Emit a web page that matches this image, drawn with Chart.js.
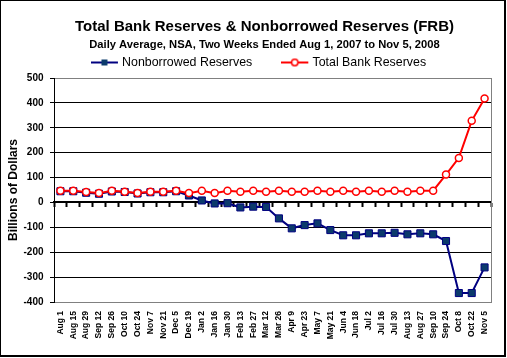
<!DOCTYPE html>
<html>
<head>
<meta charset="utf-8">
<script src="https://cdn.jsdelivr.net/npm/chart.js@4/dist/chart.umd.min.js"></script>
<style>
  html, body { margin: 0; padding: 0; background: #fff; }
  #wrap { position: relative; width: 507px; height: 358px; }
  #frame { position: absolute; left: 0; top: 0; width: 503px; height: 354px;
           border-style: solid; border-color: #000; border-width: 1px 2px 2px 1px; pointer-events: none; }
</style>
</head>
<body>
<div id="wrap">
  <canvas id="c" width="507" height="358"></canvas>
  <div id="frame"></div>
</div>
<script>
const categories = ['Aug 1','Aug 15','Aug 29','Sep 12','Sep 26','Oct 10','Oct 24','Nov 7','Nov 21','Dec 5',
  'Dec 19','Jan 2','Jan 16','Jan 30','Feb 13','Feb 27','Mar 12','Mar 26','Apr 9','Apr 23',
  'May 7','May 21','Jun 4','Jun 18','Jul 2','Jul 16','Jul 30','Aug 13','Aug 27','Sep 10',
  'Sep 24','Oct 8','Oct 22','Nov 5'];
const nonborrowed = [45, 45, 39, 35, 44, 42, 36, 41, 41, 45,
  28, 8, -4, -3, -20, -17, -18, -64, -104, -91,
  -84, -111, -132, -132, -124, -124, -122, -128, -124, -128,
  -155, -364, -364, -261];
const totalReserves = [47, 47, 41.5, 37.5, 47, 43, 37.5, 43, 43, 47,
  37.5, 47, 37.5, 47, 43, 47, 43, 47, 43, 43,
  47, 43, 47, 43, 47, 43, 47, 43, 47, 47,
  112, 179, 328, 418];
const yTicks = [-400, -300, -200, -100, 0, 100, 200, 300, 400, 500];
const seriesNames = ['Nonborrowed Reserves', 'Total Bank Reserves'];
const titleText = 'Total Bank Reserves & Nonborrowed Reserves (FRB)';
const subtitleText = 'Daily Average, NSA, Two Weeks Ended Aug 1, 2007 to Nov 5, 2008';
const yTitle = 'Billions of Dollars';

const FONT = "'Liberation Sans', Arial, sans-serif";
const NAVY = '#000080';
const NAVY_FILL = '#0b3a6b';
const RED = '#ff0000';
const GREY = '#808080';

// legend sample: line with marker, drawn in the left 27px of a 37px wide image
function legendSample(kind) {
  const cv = document.createElement('canvas');
  cv.width = 37; cv.height = 10;
  const g = cv.getContext('2d');
  g.lineWidth = 2;
  g.strokeStyle = kind === 0 ? NAVY : RED;
  g.beginPath(); g.moveTo(0, 5); g.lineTo(27, 5); g.stroke();
  if (kind === 0) {
    g.fillStyle = NAVY_FILL; g.fillRect(10.5, 2, 6, 6);
  } else {
    g.fillStyle = '#fff'; g.lineWidth = 1.5;
    g.beginPath(); g.arc(13.5, 5, 3.2, 0, Math.PI * 2); g.fill(); g.stroke();
  }
  return cv;
}
const samples = [legendSample(0), legendSample(1)];

new Chart(document.getElementById('c'), {
  type: 'line',
  data: {
    labels: categories,
    datasets: [
      {
        label: seriesNames[0], data: nonborrowed, order: 1,
        borderColor: NAVY, borderWidth: 2, tension: 0,
        pointStyle: 'rect', pointRadius: 5, pointBackgroundColor: NAVY_FILL,
        pointBorderColor: NAVY, pointBorderWidth: 1,
        xAxisID: 'x', yAxisID: 'y'
      },
      {
        label: seriesNames[1], data: totalReserves, order: 0,
        borderColor: RED, borderWidth: 2, tension: 0,
        pointStyle: 'circle', pointRadius: 3.5, pointBackgroundColor: '#fff',
        pointBorderColor: RED, pointBorderWidth: 1.5,
        xAxisID: 'x', yAxisID: 'y'
      }
    ]
  },
  options: {
    responsive: false,
    animation: false,
    devicePixelRatio: 1,
    layout: { padding: { left: 22, right: 0, top: 0, bottom: 0 } },
    plugins: {
      tooltip: { enabled: false },
      title: {
        display: true, text: titleText, color: '#000',
        font: { family: FONT, size: 15, weight: 'bold' },
        padding: { top: 17.5, bottom: -20.2 }
      },
      subtitle: {
        display: true, text: subtitleText, color: '#000',
        font: { family: FONT, size: 11.2, weight: 'bold' },
        padding: { top: 22.48, bottom: -35.92 }
      },
      legend: {
        display: true, position: 'top', maxHeight: 62.7,
        labels: {
          usePointStyle: true, pointStyleWidth: 13, padding: 41,
          color: '#000', font: { family: FONT, size: 12.4 },
          generateLabels: () => seriesNames.map((n, i) => ({
            text: n, pointStyle: samples[i], fillStyle: 'transparent',
            strokeStyle: 'transparent', lineWidth: 0, hidden: false,
            datasetIndex: i, fontColor: '#000'
          }))
        }
      }
    },
    scales: {
      x: {
        type: 'category', position: 'bottom', offset: true,
        grid: { display: false, drawTicks: false, tickLength: 0 },
        border: { display: true, color: GREY, width: 1 },
        ticks: {
          autoSkip: false, maxRotation: 90, minRotation: 90, padding: 9,
          color: '#000', font: { family: FONT, size: 8.5, weight: 'bold' }
        },
        afterFit: s => { s.height = 56; }
      },
      x0: {
        type: 'category', position: { y: 0 }, offset: true,
        grid: { display: true, drawOnChartArea: false, drawTicks: true, tickLength: 4,
                tickWidth: 2, tickColor: '#000', offset: true },
        border: { display: true, color: '#000', width: 2 },
        ticks: { display: false }
      },
      y: {
        type: 'linear', position: 'left', min: -400, max: 500,
        afterBuildTicks: s => { s.ticks = yTicks.map(v => ({ value: v })); },
        grid: {
          color: c => (c.tick && (c.tick.value === 500 || c.tick.value === -400)) ? GREY : '#000',
          lineWidth: 1, tickColor: '#000', tickLength: 4, tickWidth: 1, drawTicks: true
        },
        border: { display: true, color: '#000', width: 1 },
        ticks: { padding: 6.5, color: '#000', font: { family: FONT, size: 10, weight: 'bold' } },
        title: {
          display: true, text: yTitle, color: '#000',
          font: { family: FONT, size: 12, weight: 'bold' },
          padding: { top: -15.2, bottom: 0 }
        },
        afterFit: s => { s.width = 32; }
      },
      yR: {
        type: 'linear', position: 'right', min: -400, max: 500,
        grid: { display: false, drawOnChartArea: false, drawTicks: false },
        border: { display: true, color: GREY, width: 1 },
        ticks: { display: false },
        afterFit: s => { s.width = 16; }
      }
    }
  }
});
</script>
</body>
</html>
